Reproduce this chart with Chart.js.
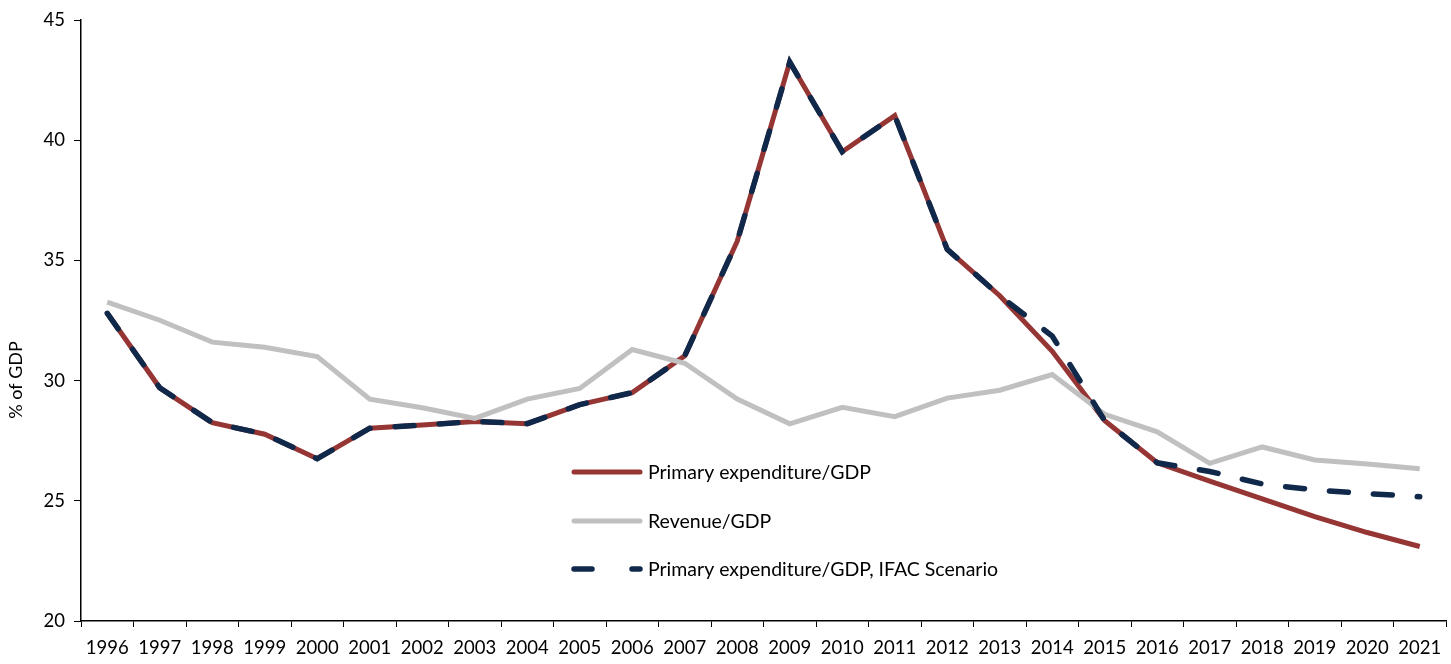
<!DOCTYPE html>
<html>
<head>
<meta charset="utf-8">
<script src="https://cdn.jsdelivr.net/npm/chart.js@4/dist/chart.umd.min.js"></script>
<style>
  html, body { margin: 0; padding: 0; background: #ffffff; }
  #wrap { width: 1451px; height: 664px; position: relative; }
</style>
</head>
<body>
<div id="wrap"><canvas id="chart" width="1451" height="664"></canvas></div>
<script>
// Years on the horizontal axis
const years = ['1996','1997','1998','1999','2000','2001','2002','2003','2004','2005','2006','2007','2008',
               '2009','2010','2011','2012','2013','2014','2015','2016','2017','2018','2019','2020','2021'];

// Primary expenditure as % of GDP
const primaryExpenditure = [32.8, 29.7, 28.25, 27.77, 26.75, 28.02, 28.15, 28.3, 28.21, 29.0, 29.5, 31.03, 35.8,
                            43.25, 39.52, 41.02, 35.46, 33.53, 31.22, 28.33, 26.58, 25.82, 25.08, 24.34, 23.68, 23.1];

// Revenue as % of GDP
const revenue = [33.26, 32.51, 31.6, 31.39, 31.0, 29.23, 28.87, 28.43, 29.23, 29.67, 31.29, 30.72, 29.23,
                 28.2, 28.89, 28.5, 29.27, 29.6, 30.25, 28.6, 27.87, 26.56, 27.24, 26.7, 26.53, 26.33];

// Primary expenditure as % of GDP under the IFAC scenario
const primaryExpenditureIFAC = [32.8, 29.7, 28.25, 27.77, 26.75, 28.02, 28.15, 28.3, 28.21, 29.0, 29.5, 31.03, 35.8,
                                43.25, 39.52, 41.02, 35.46, 33.53, 31.85, 28.33, 26.58, 26.22, 25.7, 25.45, 25.3, 25.17];

const yTicks = [20, 25, 30, 35, 40, 45];
const yTitle = '% of GDP';

const FONT = 'Lato, "Open Sans", "Noto Sans", sans-serif';

// Legend drawn inside the plot area, plus the rotated value-axis title
const insideLegend = {
  id: 'insideLegend',
  afterDatasetsDraw(chart) {
    const ctx = chart.ctx;
    const x0 = 572, x1 = 642, textX = 648;
    const rows = [472, 521, 569];
    ctx.save();
    chart.data.datasets.forEach((ds, i) => {
      const y = rows[i];
      ctx.beginPath();
      ctx.strokeStyle = ds.borderColor;
      ctx.lineWidth = ds.borderWidth;
      ctx.lineCap = 'round';
      ctx.setLineDash(ds.borderDash ? [18, 40] : []);
      ctx.moveTo(x0 + 2, y);
      ctx.lineTo(x1 - 2, y);
      ctx.stroke();
      ctx.setLineDash([]);
      ctx.fillStyle = '#000000';
      ctx.font = '19.5px ' + FONT;
      ctx.textBaseline = 'middle';
      ctx.textAlign = 'left';
      ctx.fillText(ds.label, textX, y + 1);
    });
    // value-axis title
    ctx.translate(16, 380);
    ctx.rotate(-Math.PI / 2);
    ctx.font = '18px ' + FONT;
    ctx.textAlign = 'center';
    ctx.textBaseline = 'middle';
    ctx.fillStyle = '#000000';
    ctx.fillText(yTitle, 0, 0);
    ctx.restore();
  }
};

new Chart(document.getElementById('chart'), {
  type: 'line',
  data: {
    labels: years,
    datasets: [
      {
        label: 'Primary expenditure/GDP',
        data: primaryExpenditure,
        borderColor: '#963634',
        borderWidth: 5,
        pointRadius: 0,
        tension: 0,
        order: 2
      },
      {
        label: 'Revenue/GDP',
        data: revenue,
        borderColor: '#C0C0C0',
        borderWidth: 5,
        pointRadius: 0,
        tension: 0,
        order: 1
      },
      {
        label: 'Primary expenditure/GDP, IFAC Scenario',
        data: primaryExpenditureIFAC,
        borderColor: '#10284A',
        borderWidth: 5.5,
        borderDash: [19, 25],
        borderCapStyle: 'round',
        pointRadius: 0,
        tension: 0,
        order: 0
      }
    ]
  },
  options: {
    responsive: false,
    animation: false,
    devicePixelRatio: 1,
    layout: { padding: { left: 0, right: 5, top: 20, bottom: 0 } },
    plugins: {
      legend: { display: false },
      tooltip: { enabled: false }
    },
    scales: {
      x: {
        type: 'category',
        offset: true,
        grid: {
          display: true,
          drawOnChartArea: false,
          drawTicks: true,
          tickLength: 6,
          color: '#000000',
          lineWidth: 1,
          offset: true
        },
        border: { display: true, color: '#000000', width: 1.5 },
        ticks: {
          color: '#000000',
          font: { family: FONT, size: 18.5 },
          padding: 10,
          maxRotation: 0,
          autoSkip: false
        },
        afterFit(scale) { scale.height = 43; scale.paddingLeft = 0; scale.paddingRight = 0; }
      },
      y: {
        min: 20,
        max: 45,
        afterBuildTicks(scale) { scale.ticks = yTicks.map(v => ({ value: v })); },
        grid: {
          display: true,
          drawOnChartArea: false,
          drawTicks: true,
          tickLength: 7,
          color: '#000000',
          lineWidth: 1
        },
        border: { display: true, color: '#000000', width: 1.5 },
        ticks: {
          color: '#000000',
          font: { family: FONT, size: 18.5 },
          padding: 9
        },
        afterFit(scale) { scale.width = 81; scale.paddingTop = 0; scale.paddingBottom = 0; }
      }
    }
  },
  plugins: [insideLegend]
});
</script>
</body>
</html>
